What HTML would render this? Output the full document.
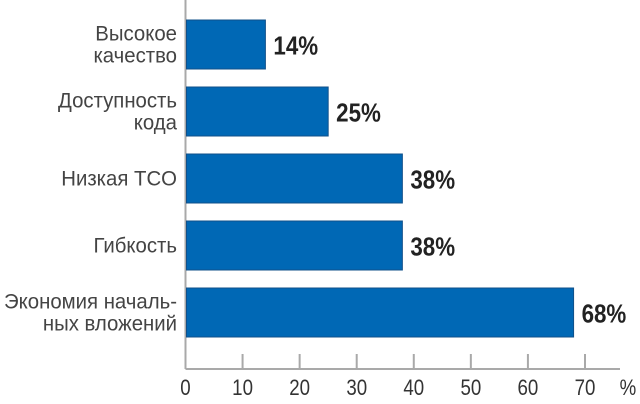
<!DOCTYPE html>
<html><head><meta charset="utf-8"><style>
html,body{margin:0;padding:0;background:#fff;width:640px;height:404px;overflow:hidden}
svg{display:block;font-family:"Liberation Sans",sans-serif}
</style></head><body>
<svg id="chart" width="640" height="404" viewBox="0 0 640 404" xmlns="http://www.w3.org/2000/svg"></svg>
<script>
const categories = [["Высокое","качество"],["Доступность","кода"],["Низкая TCO"],["Гибкость"],["Экономия началь-","ных вложений"]];
const values = [14, 25, 38, 38, 68];
const valueLabels = ["14%","25%","38%","38%","68%"];
const ticks = [0,10,20,30,40,50,60,70];
const tickLabels = ["0","10","20","30","40","50","60","70"];

const svg = document.getElementById('chart');
const NS = 'http://www.w3.org/2000/svg';
const x0 = 185.5, pxPer = 5.707, axisY = 369;
const xs = v => x0 + v * pxPer;
const barTop = i => 20 + i * 67;
const barH = 49;
function mk(tag, attrs, parent){ const e=document.createElementNS(NS,tag); for(const k in attrs) e.setAttribute(k,attrs[k]); (parent||svg).appendChild(e); return e; }

const yAxis = mk('line',{x1:x0,y1:0,x2:x0,y2:axisY,stroke:'#a9a9a9','stroke-width':2});


const xAxis = mk('line',{x1:x0,y1:axisY,x2:620,y2:axisY,stroke:'#a9a9a9','stroke-width':2});



ticks.forEach((t,i)=>{
  if(t>0){
    const tk = mk('line',{x1:xs(t),y1:354,x2:xs(t),y2:axisY,stroke:'#a9a9a9','stroke-width':2});
    
    
  }
  const tl = mk('text',{x:0,y:0,'font-size':22,fill:'#333','text-anchor':'middle',transform:`translate(${xs(t)},395) scale(0.85,1)`});
  tl.textContent = tickLabels[i];
  
  
});
const pct = mk('text',{x:0,y:0,'font-size':22,fill:'#333','text-anchor':'middle',transform:'translate(628,395) scale(0.85,1)'});
pct.textContent='%';



values.forEach((v,i)=>{
  const y = barTop(i);
  const b = mk('rect',{x:x0+1,y:y,width:xs(v)-x0-1,height:barH,fill:'#0068b5',stroke:'#10508a','stroke-width':1});
  
  
  const vl = mk('text',{x:0,y:0,'font-size':26,'font-weight':'bold',fill:'#222',transform:`translate(${xs(v)+8},${y+barH/2+10}) scale(0.86,1)`});
  vl.textContent = valueLabels[i];
  
  
  const lines = categories[i];
  const cy = y + barH/2;
  lines.forEach((ln,j)=>{
    const yy = cy + 7 + (j - (lines.length-1)/2) * 22;
    const cl = mk('text',{x:0,y:0,'font-size':21,fill:'#444','text-anchor':'end',transform:`translate(177,${yy}) scale(0.97,1)`});
    cl.textContent = ln;
    
    
  });
});
</script>
</body></html>
